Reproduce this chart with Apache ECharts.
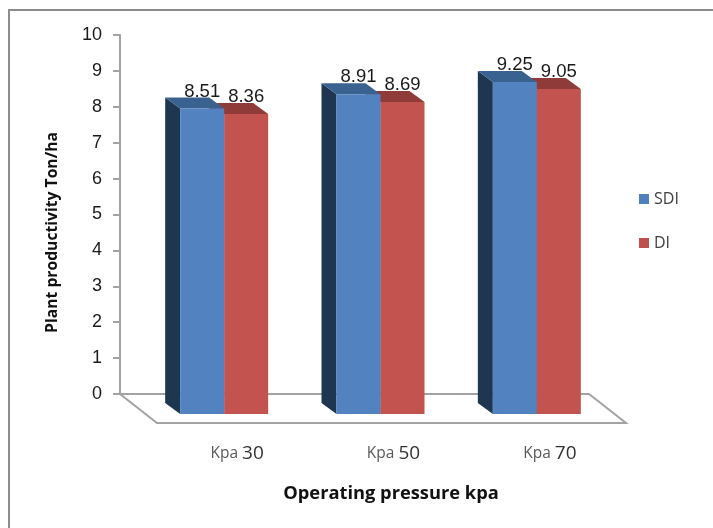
<!DOCTYPE html>
<html>
<head>
<meta charset="utf-8">
<style>
html,body{margin:0;padding:0;background:#fff}
#chart{width:713px;height:528px}
</style>
<script src="https://cdn.jsdelivr.net/npm/echarts@6/dist/echarts.min.js"></script>
</head>
<body>
<div id="chart"></div>
<script>
const categories = ['30', '50', '70'];
const sdiValues = [8.51, 8.91, 9.25];
const diValues = [8.36, 8.69, 9.05];
const yTicks = [0, 10, 1];

// fake 3d: depth of the bars and of the floor, in px
const barDepthX = 15, barDepthY = 11;
const floorDepthX = 37, floorDepthY = 29;
const floorDrop = 9;
const barWidth = 44;
const axisGray = '#a3a3a3';

function barRender(colors, slot) {
    return function (params, api) {
        const band = api.coord([api.value(0), 0]);
        const top = api.coord([api.value(0), api.value(1)]);
        const h = band[1] - top[1];
        // front face sits on the floor, centred a bit right of the band centre
        const cx = band[0] + 26 - barWidth + slot * barWidth;
        const bottomBack = band[1] + floorDrop;
        const backTop = bottomBack - h;
        const x0 = cx - barDepthX, x1 = cx, x2 = cx + barWidth;
        const frontTop = backTop + barDepthY;
        const frontBottom = bottomBack + barDepthY;
        const children = [
            {type: 'polygon', shape: {points: [[x0, backTop], [x1, frontTop], [x1, frontBottom], [x0, bottomBack]]},
                style: {fill: colors.side}},
            {type: 'polygon', shape: {points: [[x0, backTop], [x0 + barWidth, backTop], [x2, frontTop], [x1, frontTop]]},
                style: {fill: colors.top}},
            {type: 'rect', shape: {x: x1, y: frontTop, width: barWidth, height: h},
                style: {fill: colors.front}},
            {type: 'text', z2: 50, style: {
                text: String(api.value(1)), x: x1 + barWidth / 2, y: backTop - 6,
                align: 'center', verticalAlign: 'middle',
                font: '18.5px "Liberation Sans", Arial', fill: '#1a1a1a'
            }}
        ];
        return {type: 'group', children: children};
    };
}

function floorRender(params, api) {
    const g = params.coordSys;
    const yb = g.y + g.height;
    const pts = [[g.x, yb], [g.x + g.width, yb],
        [g.x + g.width + floorDepthX, yb + floorDepthY], [g.x + floorDepthX, yb + floorDepthY]];
    return {type: 'polygon', shape: {points: pts},
        style: {fill: '#fff', stroke: axisGray, lineWidth: 2}};
}

const chart = echarts.init(document.getElementById('chart'));
chart.setOption({
    animation: false,
    backgroundColor: '#fff',
    grid: {left: 120, right: 124, top: 35, bottom: 134},
    graphic: [{
        type: 'polyline', silent: true,
        shape: {points: [[9, 528], [9, 10], [713, 10]]},
        style: {stroke: '#8c8c8c', lineWidth: 2, fill: null}
    }],
    legend: {
        orient: 'vertical', left: 634, top: 186, itemWidth: 10, itemHeight: 10,
        itemGap: 28, icon: 'rect',
        data: ['SDI', 'DI'],
        textStyle: {fontFamily: '"Open Sans"', fontSize: 16, color: '#404040', padding: [0, 0, 0, 0]}
    },
    xAxis: {
        type: 'category', data: categories,
        axisLine: {show: false}, axisTick: {show: false},
        axisLabel: {
            margin: 50, padding: [0, 0, 0, 78],
            formatter: function (v) { return '{k|Kpa }{n|' + v + '}'; },
            rich: {
                k: {fontFamily: '"Open Sans"', fontSize: 15.5, color: '#595959'},
                n: {fontFamily: '"Open Sans"', fontSize: 19, color: '#333'}
            }
        },
        name: 'Operating pressure kpa', nameLocation: 'middle', nameGap: 91,
        nameTextStyle: {fontFamily: '"Open Sans"', fontWeight: 'bold', fontSize: 18.3, color: '#111', padding: [0, 0, 0, 73]}
    },
    yAxis: {
        type: 'value', min: yTicks[0], max: yTicks[1], interval: yTicks[2],
        axisLine: {show: true, lineStyle: {color: axisGray, width: 2}},
        axisTick: {show: true, length: 7, lineStyle: {color: axisGray, width: 2}},
        splitLine: {show: false},
        axisLabel: {margin: 18, fontFamily: '"Liberation Sans", Arial', fontSize: 18, color: '#1a1a1a'},
        name: 'Plant productivity Ton/ha', nameLocation: 'middle', nameGap: 59, nameRotate: 90,
        nameTextStyle: {fontFamily: '"Open Sans"', fontWeight: 'bold', fontSize: 15.7, color: '#111', padding: [0, 36, 0, 0]}
    },
    series: [
        {type: 'custom', silent: true, z: 1, coordinateSystem: 'cartesian2d', data: [[0, 0]], renderItem: floorRender},
        {
            type: 'custom', name: 'DI', z: 2, itemStyle: {color: '#c0504d'},
            data: diValues.map(function (v, i) { return [i, v]; }),
            encode: {x: 0, y: 1},
            renderItem: barRender({front: '#c3534f', top: '#8f3b39', side: '#8f3b39'}, 1)
        },
        {
            type: 'custom', name: 'SDI', z: 3, itemStyle: {color: '#4f81bd'},
            data: sdiValues.map(function (v, i) { return [i, v]; }),
            encode: {x: 0, y: 1},
            renderItem: barRender({front: '#5283c0', top: '#3a6291', side: '#1f3650'}, 0)
        }
    ]
});
</script>
</body>
</html>
